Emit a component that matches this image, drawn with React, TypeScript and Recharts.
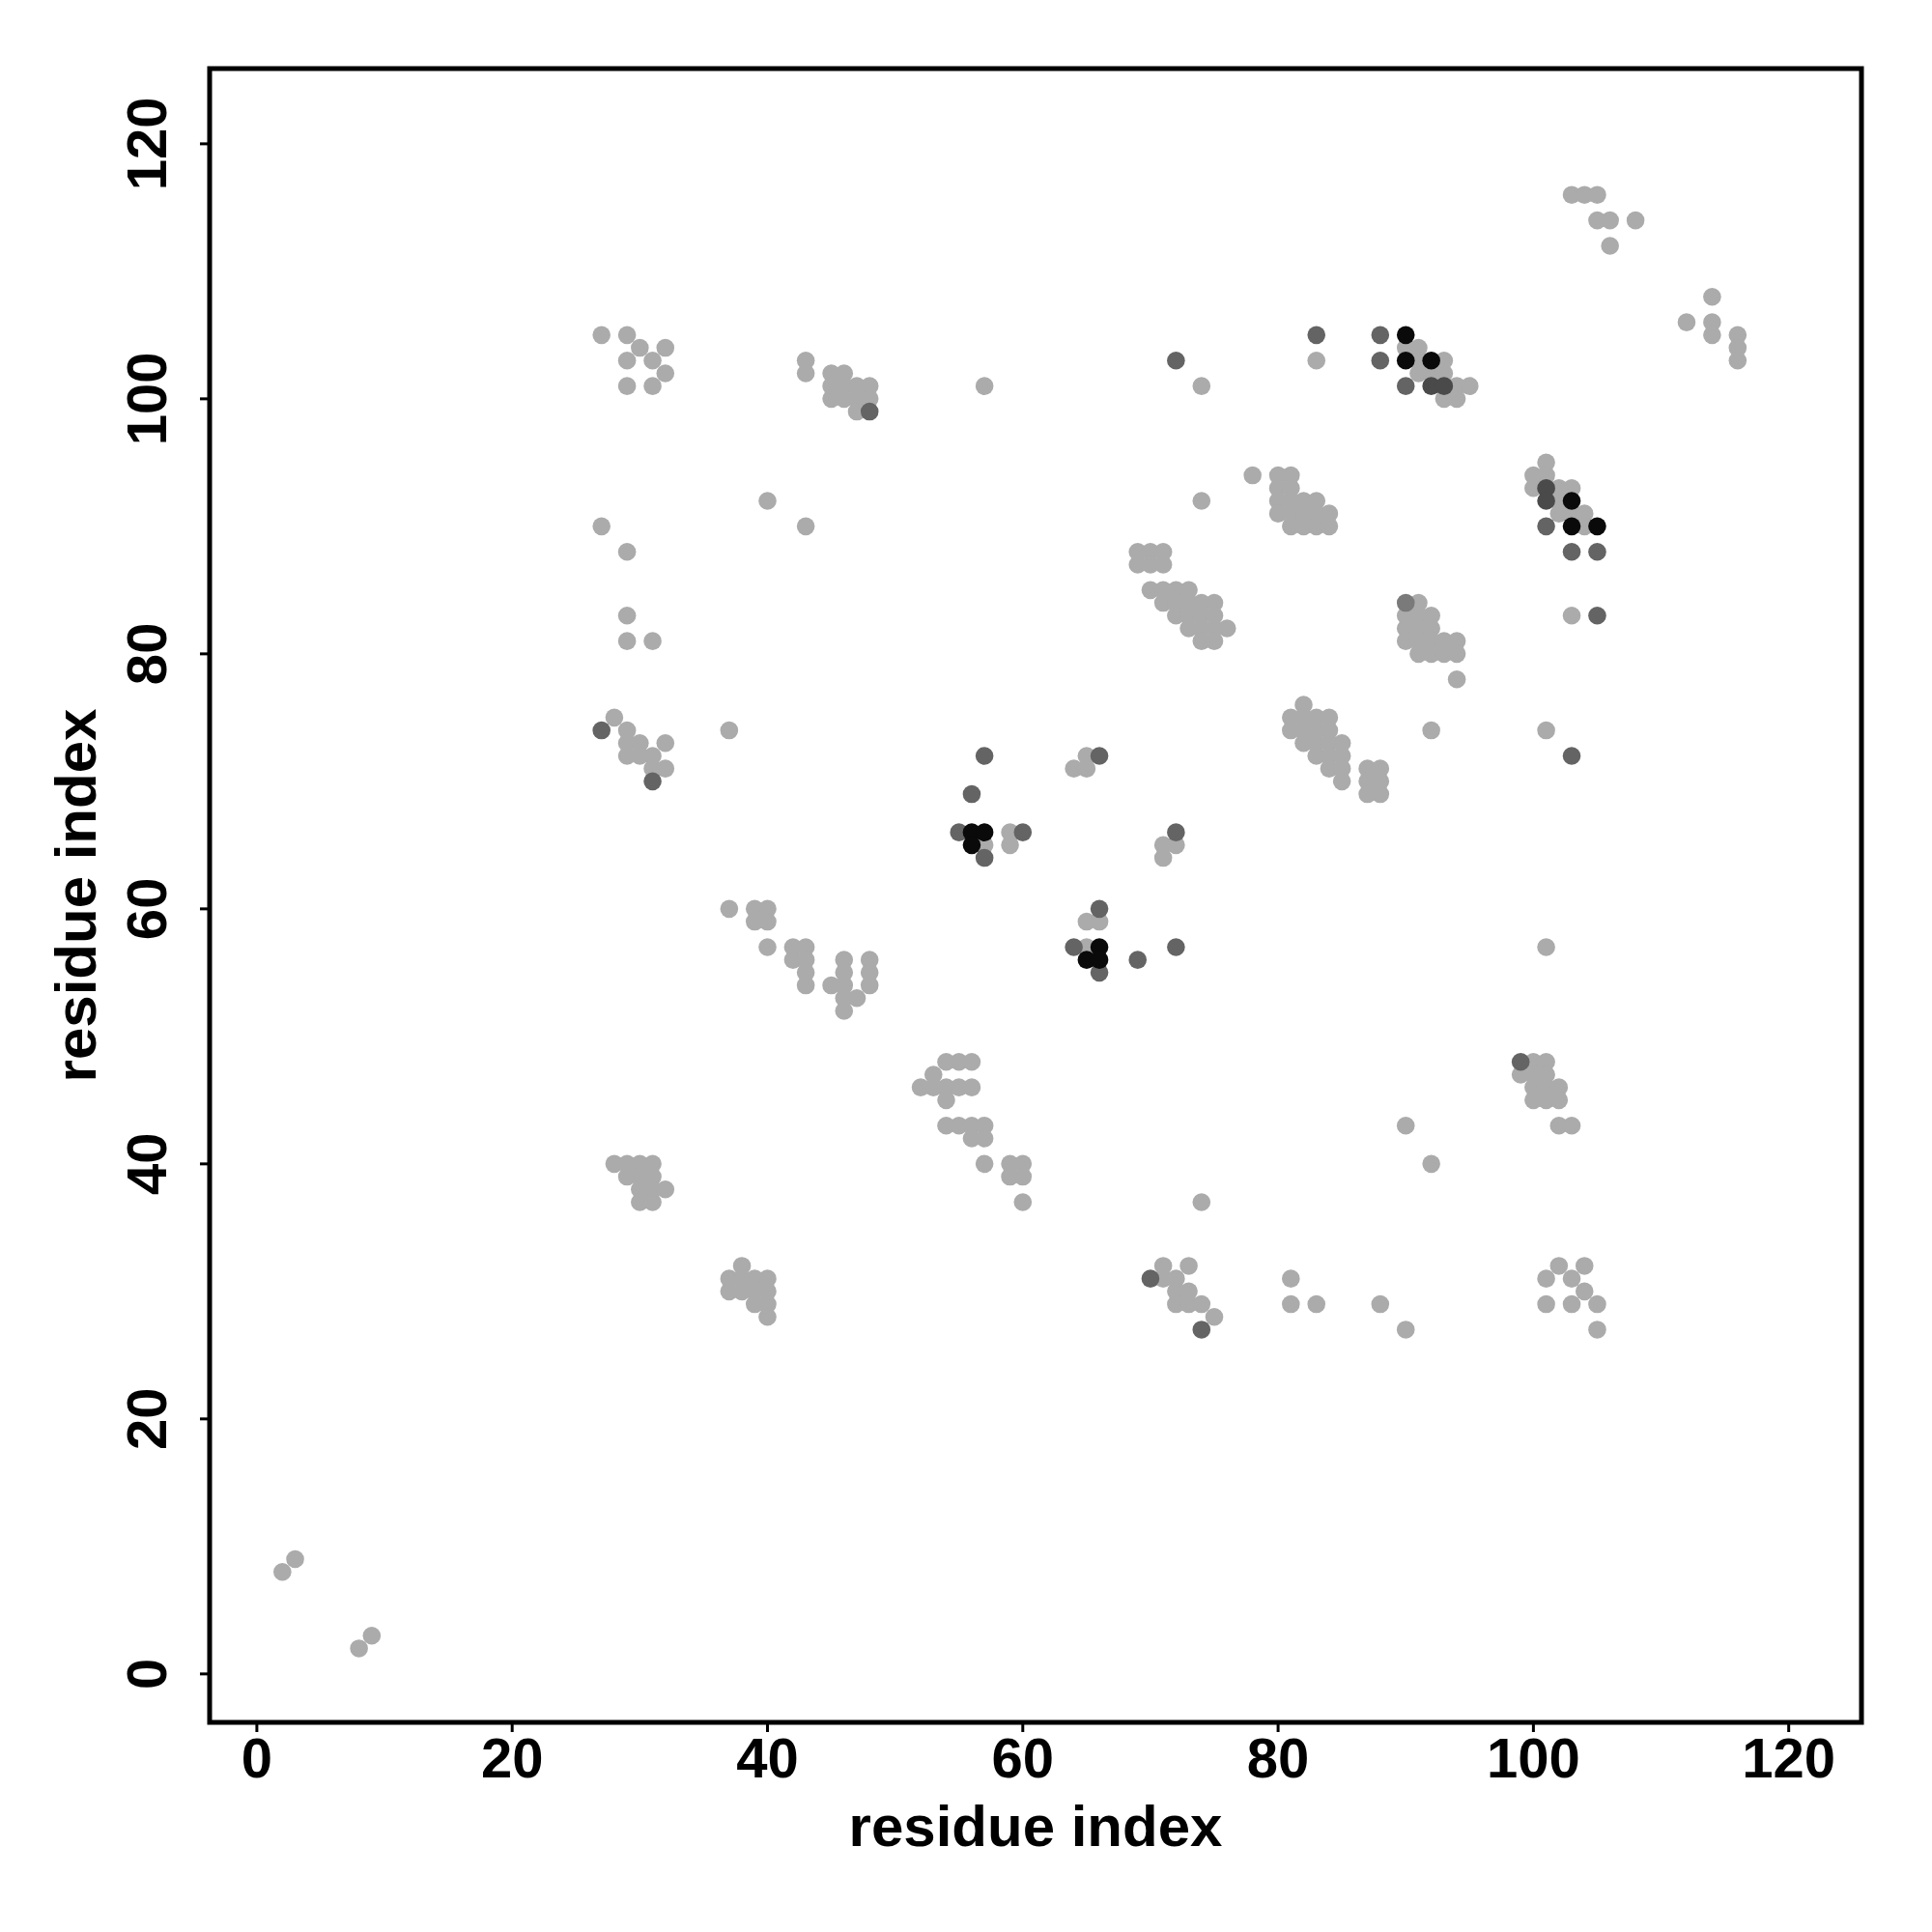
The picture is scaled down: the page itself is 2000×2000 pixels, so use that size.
import React from 'react'
import {
  ScatterChart,
  Scatter,
  XAxis,
  YAxis,
  ReferenceArea,
  Label
} from 'recharts'

type Pt = [number, number]

// contact pairs (residue i, residue j), grouped by shade
const lightPoints: Pt[] = [
  [27, 105], [29, 105], [30, 104], [32, 104], [29, 103], [31, 103], [32, 102], [29, 101], [31, 101],
  [43, 103], [43, 102], [45, 102], [46, 102], [45, 101], [46, 101], [47, 101], [48, 101],
  [45, 100], [46, 100], [47, 100], [48, 100], [47, 99], [57, 101],
  [74, 101], [83, 103], [90, 104], [91, 104], [91, 103], [91, 102], [93, 103], [92, 102], [93, 102],
  [94, 101], [95, 101], [93, 100], [94, 100],
  [103, 116], [104, 116], [105, 116], [105, 114], [106, 114], [108, 114], [106, 112],
  [114, 108], [112, 106], [114, 106], [114, 105], [116, 105], [116, 104], [116, 103],
  [101, 95], [100, 94], [101, 94], [100, 93], [102, 93], [103, 93], [102, 92], [102, 91], [103, 91],
  [104, 91], [104, 90], [103, 83],
  [78, 94], [74, 92],
  [80, 94], [81, 94], [80, 93], [81, 93], [80, 92], [81, 92], [82, 92], [83, 92],
  [80, 91], [81, 91], [82, 91], [83, 91], [84, 91], [81, 90], [82, 90], [83, 90], [84, 90],
  [69, 88], [70, 88], [71, 88], [69, 87], [70, 87], [71, 87],
  [70, 85], [71, 85], [72, 85], [73, 85], [71, 84], [72, 84], [73, 84], [74, 84], [75, 84],
  [72, 83], [73, 83], [74, 83], [75, 83], [73, 82], [74, 82], [75, 82], [76, 82], [74, 81], [75, 81],
  [91, 84], [90, 83], [91, 83], [92, 83], [90, 82], [91, 82], [92, 82],
  [90, 81], [91, 81], [92, 81], [93, 81], [94, 81], [91, 80], [92, 80], [93, 80], [94, 80], [94, 78],
  [27, 90], [29, 88], [40, 92], [43, 90], [29, 83], [29, 81], [31, 81],
  [28, 75], [29, 74], [29, 73], [30, 73], [32, 73], [29, 72], [30, 72], [31, 72], [31, 71], [32, 71],
  [37, 74], [57, 65], [59, 66], [59, 65],
  [37, 60], [39, 60], [40, 60], [39, 59], [40, 59], [40, 57], [42, 57], [43, 57], [42, 56], [43, 56],
  [43, 55], [43, 54], [46, 56], [46, 55], [46, 54], [46, 53], [46, 52], [45, 54], [47, 53],
  [48, 56], [48, 55], [48, 54],
  [82, 76], [81, 75], [82, 75], [83, 75], [84, 75], [81, 74], [82, 74], [83, 74], [84, 74],
  [82, 73], [83, 73], [84, 73], [85, 73], [83, 72], [84, 72], [85, 72], [84, 71], [85, 71], [85, 70],
  [87, 71], [88, 71], [87, 70], [88, 70], [87, 69], [88, 69],
  [92, 74], [101, 74], [64, 71], [65, 71], [65, 72], [71, 65], [72, 65], [71, 64],
  [65, 59], [66, 59], [65, 57], [101, 57],
  [54, 48], [55, 48], [56, 48], [53, 47], [52, 46], [53, 46], [54, 46], [55, 46], [56, 46], [54, 45],
  [54, 43], [55, 43], [56, 43], [57, 43], [56, 42], [57, 42], [57, 40], [59, 40], [60, 40],
  [59, 39], [60, 39], [60, 37],
  [28, 40], [29, 40], [30, 40], [31, 40], [29, 39], [30, 39], [31, 39], [30, 38], [31, 38], [32, 38],
  [30, 37], [31, 37],
  [38, 32], [37, 31], [38, 31], [39, 31], [40, 31], [37, 30], [38, 30], [39, 30], [40, 30],
  [39, 29], [40, 29], [40, 28],
  [100, 48], [101, 48], [99, 47], [100, 47], [101, 47], [100, 46], [101, 46], [102, 46],
  [100, 45], [101, 45], [102, 45], [102, 43], [103, 43], [90, 43], [92, 40], [74, 37],
  [71, 32], [73, 32], [71, 31], [72, 31], [72, 30], [73, 30], [72, 29], [73, 29], [74, 29], [75, 28],
  [81, 31], [81, 29], [83, 29], [88, 29], [90, 27],
  [102, 32], [104, 32], [101, 31], [103, 31], [104, 30], [101, 29], [103, 29], [105, 29], [105, 27],
  [2, 8], [3, 9], [8, 2], [9, 3]
]

const midPoints: Pt[] = [[90, 84]]

const darkPoints: Pt[] = [
  [48, 99], [72, 103], [83, 105], [88, 105], [88, 103], [90, 101],
  [101, 90], [103, 88], [105, 88], [105, 83], [103, 72],
  [27, 74], [31, 70], [57, 72], [56, 69], [55, 66], [57, 64], [60, 66],
  [66, 72], [72, 66], [66, 60], [64, 57], [66, 55], [69, 56], [72, 57],
  [99, 48], [70, 31], [74, 27]
]

const darkerPoints: Pt[] = [[92, 101], [93, 101], [101, 93], [101, 92]]

const blackPoints: Pt[] = [
  [90, 105], [90, 103], [92, 103], [103, 92], [103, 90], [105, 90],
  [56, 66], [57, 66], [56, 65], [66, 57], [65, 56], [66, 56]
]

const axisTicks = [0, 20, 40, 60, 80, 100, 120]
const xDomain: [number, number] = [-3.7, 125.7]
const yDomain: [number, number] = [-3.8, 125.9]

const FONT = "'Liberation Sans', Arial, Helvetica, sans-serif"

const toRows = (pts: Pt[]) => pts.map(([x, y]) => ({ x, y }))

const dot = (color: string) => (p: any) => (
  <circle cx={p.cx} cy={p.cy} r={9.3} fill={color} />
)

const XTick = (props: any) => {
  const { x, y, payload } = props
  return (
    <text x={x} y={y + 45} textAnchor="middle" fontSize={58} fontWeight="bold" fontFamily={FONT} fill="#000">
      {payload.value}
    </text>
  )
}

const YTick = (props: any) => {
  const { x, y, payload } = props
  const bx = x - 33
  return (
    <text
      x={bx}
      y={y}
      transform={`rotate(-90, ${bx}, ${y})`}
      textAnchor="middle"
      fontSize={58}
      fontWeight="bold"
      fontFamily={FONT}
      fill="#000"
    >
      {payload.value}
    </text>
  )
}

export default function App() {
  return (
    <div style={{ position: 'absolute', left: 0, top: 0, background: '#fff' }}>
      <ScatterChart width={2000} height={2000} margin={{ top: 71, right: 73, bottom: 0, left: 0 }}>
        <XAxis
          type="number"
          dataKey="x"
          domain={xDomain}
          allowDataOverflow
          ticks={axisTicks}
          axisLine={false}
          tickSize={10}
          tickLine={{ stroke: '#000', strokeWidth: 3 }}
          tick={<XTick />}
          height={217}
        >
          <Label
            content={({ viewBox }: any) => (
              <text
                x={viewBox.x + viewBox.width / 2}
                y={viewBox.y + 128}
                textAnchor="middle"
                fontSize={60}
                fontWeight="bold"
                fontFamily={FONT}
                fill="#000"
              >
                residue index
              </text>
            )}
          />
        </XAxis>
        <YAxis
          type="number"
          dataKey="y"
          domain={yDomain}
          allowDataOverflow
          ticks={axisTicks}
          axisLine={false}
          tickSize={10}
          tickLine={{ stroke: '#000', strokeWidth: 3 }}
          tick={<YTick />}
          width={217}
        >
          <Label
            content={({ viewBox }: any) => {
              const cx = viewBox.x + 99
              const cy = viewBox.y + viewBox.height / 2
              return (
                <text
                  x={cx}
                  y={cy}
                  transform={`rotate(-90, ${cx}, ${cy})`}
                  textAnchor="middle"
                  fontSize={60}
                  fontWeight="bold"
                  fontFamily={FONT}
                  fill="#000"
                >
                  residue index
                </text>
              )
            }}
          />
        </YAxis>
        <Scatter data={toRows(lightPoints)} shape={dot('#ababab')} isAnimationActive={false} />
        <Scatter data={toRows(midPoints)} shape={dot('#7a7a7a')} isAnimationActive={false} />
        <Scatter data={toRows(darkPoints)} shape={dot('#646464')} isAnimationActive={false} />
        <Scatter data={toRows(darkerPoints)} shape={dot('#4a4a4a')} isAnimationActive={false} />
        <Scatter data={toRows(blackPoints)} shape={dot('#0a0a0a')} isAnimationActive={false} />
        <ReferenceArea
          x1={xDomain[0]}
          x2={xDomain[1]}
          y1={yDomain[0]}
          y2={yDomain[1]}
          fill="none"
          fillOpacity={0}
          stroke="#000"
          strokeWidth={5}
          ifOverflow="visible"
        />
      </ScatterChart>
    </div>
  )
}
